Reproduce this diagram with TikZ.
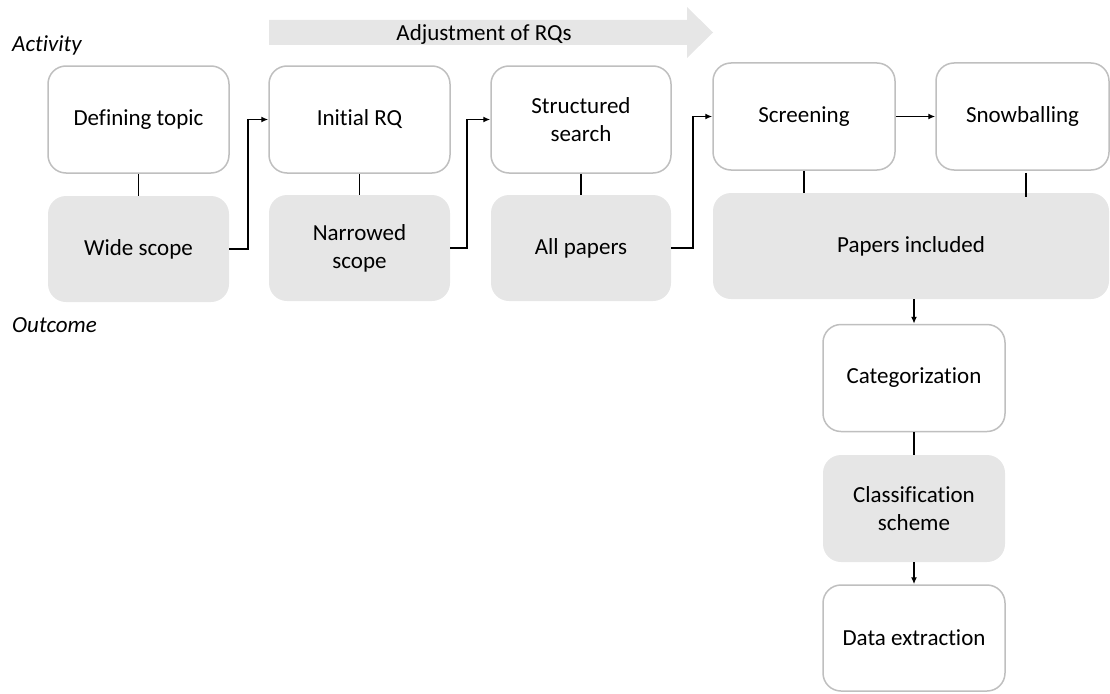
\documentclass[tikz,border=0pt]{standalone}
\usepackage{fontspec}
\setmainfont[Ligatures=NoCommon]{Carlito}
\usetikzlibrary{arrows.meta,calc}
\definecolor{boxborder}{HTML}{BFBFBF}
\definecolor{boxfill}{HTML}{E6E6E6}
\begin{document}
\begin{tikzpicture}[x=1pt,y=-1pt,
  font=\fontsize{23}{28}\selectfont,
  actbox/.style={draw=boxborder,line width=1.5pt,fill=white,rounded corners=18pt,
    minimum width=181pt,minimum height=107pt,inner sep=0pt,align=center},
  outbox/.style={fill=boxfill,rounded corners=18pt,
    minimum width=181pt,minimum height=106pt,inner sep=0pt,align=center},
  conn/.style={draw=black,line width=1.7pt},
  arr/.style={conn,-{Latex[length=7pt,width=6pt]}},
  lbl/.style={font=\fontsize{23}{28}\selectfont\itshape,inner sep=0pt,anchor=base west}
]
\useasboundingbox (0,0) rectangle (1110,693);

% big arrow
\fill[boxfill] (269,20) -- (687,20) -- (687,7) -- (713,32.5) -- (687,58) -- (687,45) -- (269,45) -- cycle;
\node (adj) at (484,34) {Adjustment of RQs};

\node[lbl] (act) at (12,52) {Activity};
\node[lbl] (out) at (12,332) {Outcome};

% activities
\node[actbox] (dt) at (138.5,119.5) {Defining topic};
\node[actbox] (irq) at (359.5,119.5) {Initial RQ};
\node[actbox,minimum width=180pt] (ss) at (581,119.5) {Structured\\search};
\node[actbox,minimum width=182pt] (scr) at (804,116.5) {Screening};
\node[actbox,minimum width=173pt] (snow) at (1022.5,116.5) {Snowballing};
\node[actbox,minimum width=182pt] (cat) at (914,378) {Categorization};
\node[actbox,minimum width=182pt,minimum height=106pt] (de) at (914,638) {Data extraction};

% outcomes
\node[outbox] (ws) at (138.5,249) {Wide scope};
\node[outbox] (ns) at (359.5,248) {Narrowed\\scope};
\node[outbox,minimum width=180pt] (ap) at (581,248) {All papers};
\node[outbox,minimum width=396pt] (pi) at (911,246) {Papers included};
\node[outbox,minimum width=182pt,minimum height=107pt] (cs) at (914,508.5) {Classification\\scheme};

% connectors
\draw[conn] (dt.south) -- (ws.north);
\draw[conn] (irq.south) -- (ns.north);
\draw[conn] (ss.south) -- (ap.north);
\draw[arr] (ws.east) -- ++(19,0) |- (irq.west);
\draw[arr] (ns.east) -- ++(17,0) |- (ss.west);
\draw[arr] (ap.east) -- ++(22,0) |- (scr.west);
\draw[arr] (scr.east) -- (snow.west);
\draw[conn] (scr.south) -- (scr.south |- pi.north);
\draw[conn] ($(snow.south)+(3.5,2)$) -- ($(snow.south |- pi.north)+(3.5,4)$);
\draw[arr] (cat.north |- pi.south) -- (cat.north);
\draw[conn] (cat.south) -- (cs.north);
\draw[arr] (cs.south) -- (de.north);
\end{tikzpicture}
\end{document}
